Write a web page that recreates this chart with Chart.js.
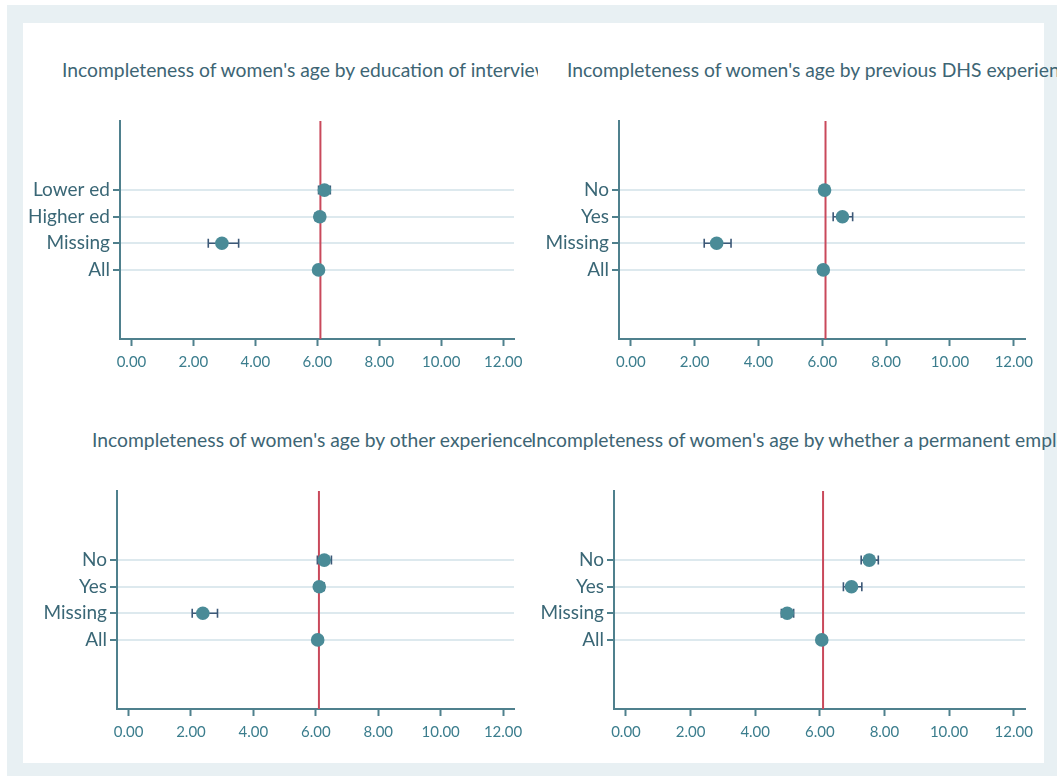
<!DOCTYPE html>
<html>
<head>
<meta charset="utf-8">
<script src="https://cdn.jsdelivr.net/npm/chart.js@4.4.1/dist/chart.umd.min.js"></script>
<style>
  html, body { margin: 0; padding: 0; width: 1057px; height: 776px; overflow: hidden; background: #ffffff; }
  #frame { position: absolute; left: 7px; top: 5px; width: 1050px; height: 771px; background: #e8f0f3; }
  #inner { position: absolute; left: 23px; top: 23px; width: 1021px; height: 740px; background: #ffffff; }
  .panel { position: absolute; }
  .title { position: absolute; white-space: nowrap; font-family: Lato, sans-serif; font-size: 19.3px; color: #3d6574; line-height: 22px; }
  .clip { position: absolute; overflow: hidden; height: 26px; }
</style>
</head>
<body>
<div id="frame"></div>
<div id="inner"></div>

<div class="clip" style="left:23px; top:59px; width:515px;">
  <div class="title" style="left:39px; top:0;">Incompleteness of women's age by education of interviewer</div>
</div>
<div class="clip" style="left:23px; top:429px; width:515px;">
  <div class="title" style="left:69px; top:0;">Incompleteness of women's age by other experience of interviewer</div>
</div>
<div class="title" style="left:567px; top:59px;">Incompleteness of women's age by previous DHS experience</div>
<div class="title" style="left:531px; top:429px;">Incompleteness of women's age by whether a permanent employee</div>

<canvas id="c1" class="panel" style="left:23px; top:100px;"></canvas>
<canvas id="c2" class="panel" style="left:540px; top:100px;"></canvas>
<canvas id="c3" class="panel" style="left:23px; top:470px;"></canvas>
<canvas id="c4" class="panel" style="left:540px; top:470px;"></canvas>

<script>
// Overall mean used as the reference line in every panel
const referenceValue = 6.1;

// x-axis ticks shared by all panels
const xTickValues = [0, 2, 4, 6, 8, 10, 12];

// Panel 1: by education of interviewer
const eduCategories = ['Lower ed', 'Higher ed', 'Missing', 'All'];
const eduMean = [6.23, 6.08, 2.92, 6.04];
const eduLow  = [6.04, 5.93, 2.48, 5.92];
const eduHigh = [6.42, 6.23, 3.46, 6.16];

// Panel 2: by previous DHS experience
const dhsCategories = ['No', 'Yes', 'Missing', 'All'];
const dhsMean = [6.07, 6.63, 2.69, 6.03];
const dhsLow  = [5.95, 6.34, 2.30, 5.91];
const dhsHigh = [6.19, 6.95, 3.14, 6.15];

// Panel 3: by other experience
const otherCategories = ['No', 'Yes', 'Missing', 'All'];
const otherMean = [6.27, 6.11, 2.38, 6.06];
const otherLow  = [6.05, 5.97, 2.04, 5.96];
const otherHigh = [6.50, 6.27, 2.85, 6.16];

// Panel 4: by whether a permanent employee
const permCategories = ['No', 'Yes', 'Missing', 'All'];
const permMean = [7.53, 6.98, 4.99, 6.06];
const permLow  = [7.28, 6.73, 4.81, 5.96];
const permHigh = [7.81, 7.30, 5.19, 6.16];

const FONT = 'Lato, sans-serif';
const AXIS_COLOR = '#4f808d';
const GRID_COLOR = '#dde9ee';
const MARKER_COLOR = '#4a8b97';
const CI_COLOR = '#3c5877';
const REF_COLOR = '#c9495b';

// reference line + confidence-interval whiskers, drawn under the markers
const intervalPlugin = {
  id: 'intervals',
  beforeDatasetsDraw(chart) {
    const { ctx, chartArea, scales: { x, y } } = chart;
    const opts = chart.options.plugins.intervals;
    ctx.save();
    // vertical reference line
    const rx = x.getPixelForValue(opts.reference);
    ctx.strokeStyle = REF_COLOR;
    ctx.lineWidth = 2;
    ctx.beginPath();
    ctx.moveTo(rx, chartArea.top);
    ctx.lineTo(rx, chartArea.bottom);
    ctx.stroke();
    // whiskers with caps
    ctx.strokeStyle = CI_COLOR;
    ctx.lineWidth = 1.6;
    opts.low.forEach((lo, i) => {
      const hi = opts.high[i];
      const py = y.getPixelForValue(i + 1);
      const x0 = x.getPixelForValue(lo);
      const x1 = x.getPixelForValue(hi);
      ctx.beginPath();
      ctx.moveTo(x0, py); ctx.lineTo(x1, py);
      ctx.moveTo(x0, py - 4.5); ctx.lineTo(x0, py + 4.5);
      ctx.moveTo(x1, py - 4.5); ctx.lineTo(x1, py + 4.5);
      ctx.stroke();
    });
    ctx.restore();
  }
};

function makePanel(id, width, yAxisWidth, padRight, categories, mean, low, high) {
  const canvas = document.getElementById(id);
  canvas.style.width = width + 'px';
  canvas.style.height = '280px';
  return new Chart(canvas, {
    type: 'scatter',
    data: {
      datasets: [{
        data: mean.map((m, i) => ({ x: m, y: i + 1 })),
        pointRadius: 6.8,
        pointHoverRadius: 6.8,
        pointBackgroundColor: MARKER_COLOR,
        pointBorderWidth: 0,
        pointBorderColor: MARKER_COLOR
      }]
    },
    options: {
      responsive: false,
      animation: false,
      layout: { padding: { left: 0, right: padRight, top: 21, bottom: 0 } },
      plugins: {
        legend: { display: false },
        tooltip: { enabled: false },
        intervals: { reference: referenceValue, low: low, high: high }
      },
      scales: {
        x: {
          type: 'linear',
          min: -0.37,
          max: 12.35,
          afterFit(scale) { scale.height = 41; },
          afterBuildTicks(scale) { scale.ticks = xTickValues.map(v => ({ value: v })); },
          border: { display: true, color: AXIS_COLOR, width: 2 },
          grid: { drawOnChartArea: false, drawTicks: true, tickLength: 7, tickColor: AXIS_COLOR, tickWidth: 2 },
          ticks: {
            padding: 7,
            color: '#3b7d8d',
            font: { family: FONT, size: 15 },
            maxRotation: 0,
            callback: v => Number(v).toFixed(2)
          }
        },
        y: {
          type: 'linear',
          reverse: true,
          min: -1.6,
          max: 6.6,
          afterFit(scale) { scale.width = yAxisWidth; },
          afterBuildTicks(scale) { scale.ticks = categories.map((c, i) => ({ value: i + 1 })); },
          border: { display: true, color: AXIS_COLOR, width: 2 },
          grid: { color: GRID_COLOR, lineWidth: 2, drawTicks: true, tickLength: 7, tickColor: AXIS_COLOR, tickWidth: 2 },
          ticks: {
            padding: 3,
            color: '#3a6776',
            font: { family: FONT, size: 19 },
            callback: v => categories[v - 1]
          }
        }
      }
    },
    plugins: [intervalPlugin]
  });
}

makePanel('c1', 517, 97, 26, eduCategories, eduMean, eduLow, eduHigh);
makePanel('c2', 504, 79, 19, dhsCategories, dhsMean, dhsLow, dhsHigh);
makePanel('c3', 517, 94, 26, otherCategories, otherMean, otherLow, otherHigh);
makePanel('c4', 504, 74, 19, permCategories, permMean, permLow, permHigh);
</script>
</body>
</html>
